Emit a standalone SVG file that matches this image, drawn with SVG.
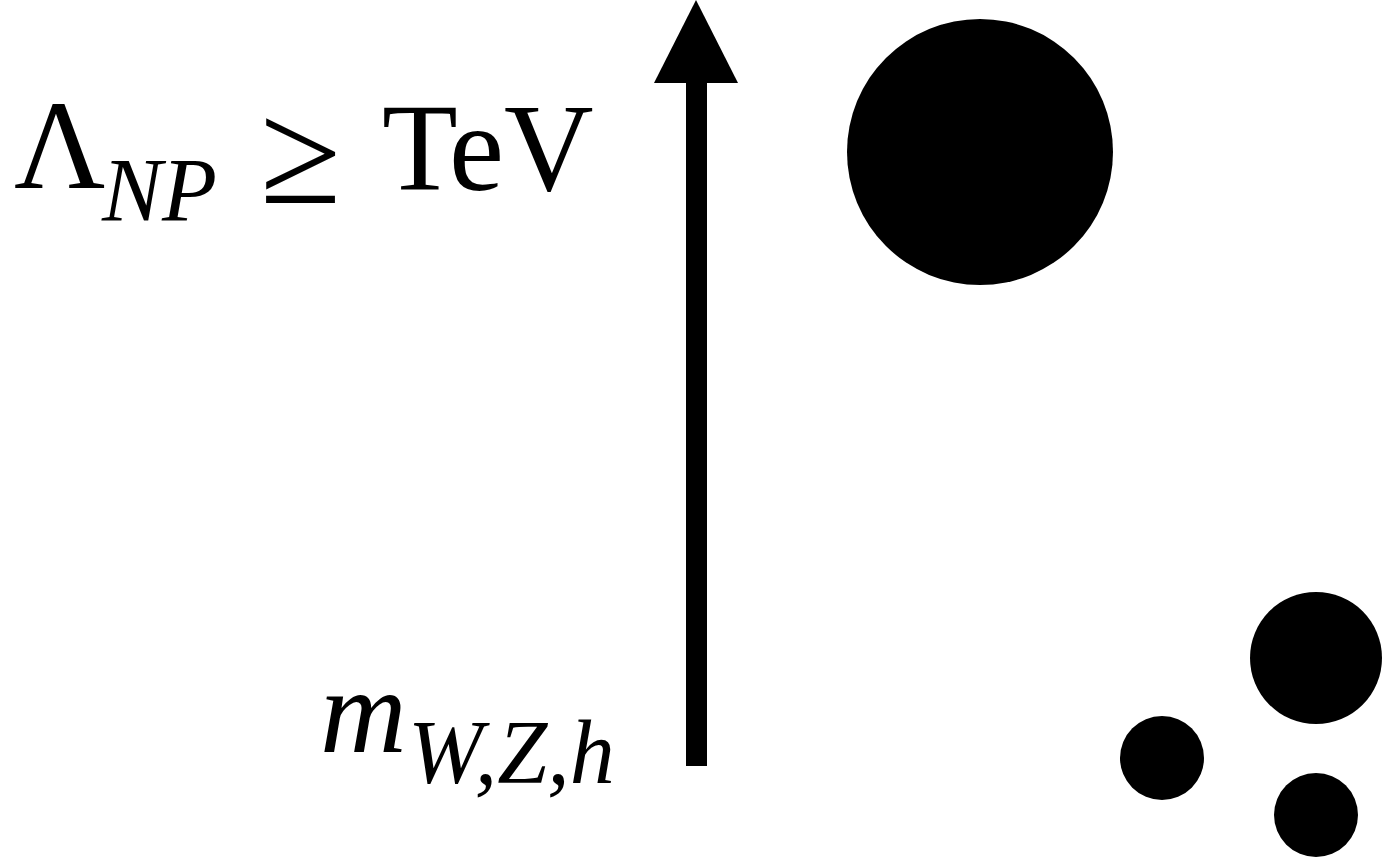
<svg xmlns="http://www.w3.org/2000/svg" width="1384" height="859" viewBox="0 0 1384 859">
<style>
.t{font-family:"Liberation Serif","DejaVu Serif",serif;fill:#000}
.i{font-style:italic}
.dot{fill:#000}
</style>
<rect width="1384" height="859" fill="#fff"/>
<g id="label-np">
<text class="t" x="14" y="188" font-size="126">Λ</text>
<text class="t i" x="102" y="221" font-size="90">NP</text>
<text class="t" x="260" y="203" font-size="148">≥</text>
<text class="t" x="382" y="190" font-size="124">TeV</text>
</g>
<g id="label-mw">
<text class="t i" x="320" y="752" font-size="120">m</text>
<text class="t i" x="408" y="783" font-size="90">W,Z,h</text>
</g>
<g id="connectors">
<rect x="686" y="80" width="21" height="686" fill="#000"/>
<polygon points="696,0 738,83 654,83" fill="#000"/>
</g>
<g id="big"><circle class="dot" cx="980" cy="152" r="133"/></g>
<g id="mid"><circle class="dot" cx="1316" cy="658" r="66"/></g>
<g id="small1"><circle class="dot" cx="1162" cy="758" r="42"/></g>
<g id="small2"><circle class="dot" cx="1316" cy="815" r="42"/></g>
</svg>
